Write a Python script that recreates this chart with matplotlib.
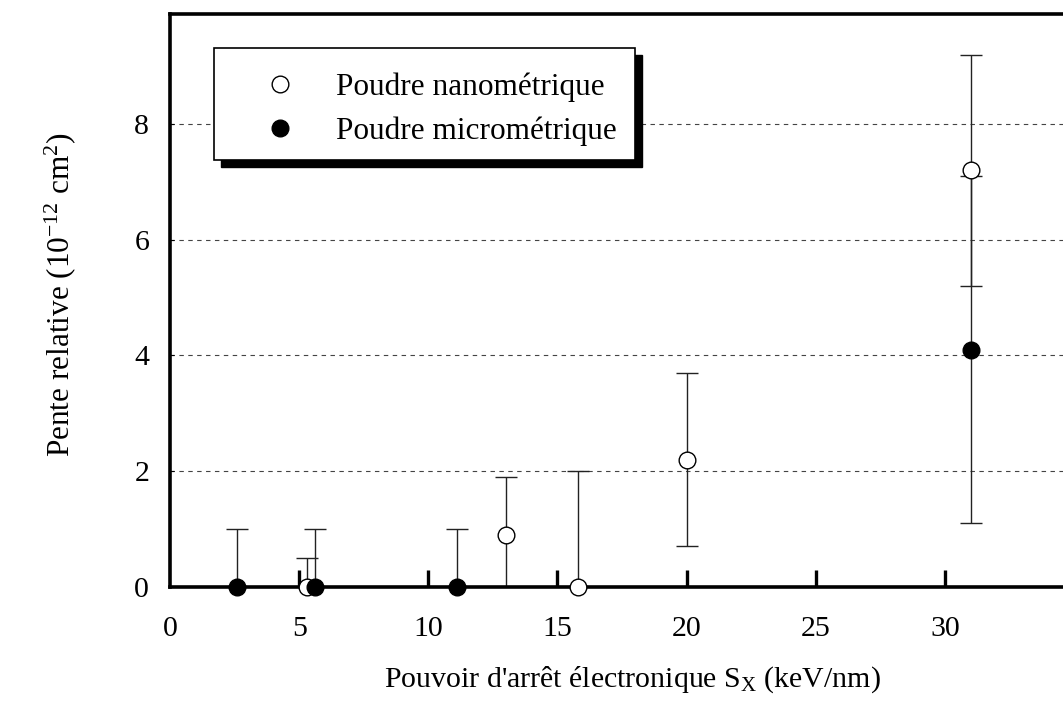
import matplotlib
matplotlib.use("Agg")
import matplotlib.pyplot as plt
from matplotlib.lines import Line2D
from matplotlib.patches import Rectangle

# ---- data ----
nano_x = [5.3, 13.0, 15.8, 20.0, 31.0]
nano_y = [0.0, 0.9, 0.0, 2.2, 7.2]
nano_err = [0.5, 1.0, 2.0, 1.5, 2.0]

micro_x = [2.6, 5.6, 11.1, 31.0]
micro_y = [0.0, 0.0, 0.0, 4.1]
micro_err = [1.0, 1.0, 1.0, 3.0]

xticks = [0, 5, 10, 15, 20, 25, 30]
yticks = [0, 2, 4, 6, 8]
label_nano = "Poudre nanométrique"
label_micro = "Poudre micrométrique"
xlabel = "Pouvoir d'arrêt électronique S$_{\\mathrm{X}}$ (keV/nm)"
ylabel = "Pente relative (10$^{\\mathrm{-12}}$ cm$^{\\mathrm{2}}$)"

plt.rcParams['font.family'] = ['Liberation Serif', 'DejaVu Serif']
plt.rcParams['mathtext.fontset'] = 'custom'
plt.rcParams['mathtext.rm'] = 'Liberation Serif'
plt.rcParams['mathtext.it'] = 'Liberation Serif:italic'
plt.rcParams['mathtext.bf'] = 'Liberation Serif:bold'

FS = 21.5
W, H = 1063, 704
fig = plt.figure(figsize=(W / 100, H / 100), dpi=100)
ax_left, ax_right, ax_top, ax_bottom = 170, 1074, 14, 587
ax = fig.add_axes([ax_left / W, (H - ax_bottom) / H,
                   (ax_right - ax_left) / W, (ax_bottom - ax_top) / H])
ax.set_xlim(0, 35)
ax.set_ylim(0, 9.9)

# grid
ax.set_yticks(yticks)
ax.set_xticks(xticks)
ax.yaxis.grid(True, color='#444444', linewidth=0.8, linestyle=(0, (4, 4)))
ax.set_axisbelow(True)

# error bars (clipped at axes)
ax.errorbar(nano_x, nano_y, yerr=nano_err, fmt='none', ecolor='#222222',
            elinewidth=1.0, capsize=8, capthick=1.0, zorder=3)
ax.errorbar(micro_x, micro_y, yerr=micro_err, fmt='none', ecolor='#222222',
            elinewidth=1.0, capsize=8, capthick=1.0, zorder=3)

# markers
ax.plot(nano_x, nano_y, linestyle='none', marker='o', ms=12, mfc='white',
        mec='black', mew=1.0, clip_on=False, zorder=5)
ax.plot(micro_x, micro_y, linestyle='none', marker='o', ms=12, mfc='black',
        mec='black', mew=1.0, clip_on=False, zorder=6)

# spines
for s in ['left', 'bottom', 'top']:
    ax.spines[s].set_linewidth(2.6)
    ax.spines[s].set_zorder(4)
ax.spines['right'].set_visible(False)

ax.tick_params(axis='x', direction='in', length=12, width=2.4, labelsize=FS,
               pad=21)
ax.tick_params(axis='y', direction='in', length=3, width=0.8, labelsize=FS,
               pad=15)
ax.set_xticklabels([str(v) for v in xticks])
ax.set_yticklabels([str(v) for v in yticks])
for t in ax.xaxis.get_major_ticks():
    t.tick1line.set_zorder(4)
ax.xaxis.get_major_ticks()[0].tick1line.set_visible(False)

ax.set_xlabel(xlabel, fontsize=FS, va='center')
ax.xaxis.set_label_coords((632 - ax_left) / (ax_right - ax_left),
                          (ax_bottom - 680) / (ax_bottom - ax_top))
ax.set_ylabel(ylabel, fontsize=22.5, va='center')
ax.yaxis.set_label_coords((60 - ax_left) / (ax_right - ax_left),
                          (ax_bottom - 295) / (ax_bottom - ax_top))

# legend box with shadow (pixel positions converted to axes fractions)
def fx(px):
    return (px - ax_left) / (ax_right - ax_left)

def fy(py):
    return (ax_bottom - py) / (ax_bottom - ax_top)

bx0, bx1, by0, by1 = 214, 635, 48, 160
sh = 7
ax.add_patch(Rectangle((fx(bx0 + sh), fy(by1 + sh)), fx(bx1 + sh) - fx(bx0 + sh),
                       fy(by0 + sh) - fy(by1 + sh), transform=ax.transAxes,
                       facecolor='black', edgecolor='black', zorder=7,
                       clip_on=False))
ax.add_patch(Rectangle((fx(bx0), fy(by1)), fx(bx1) - fx(bx0),
                       fy(by0) - fy(by1), transform=ax.transAxes,
                       facecolor='white', edgecolor='black', linewidth=1.2,
                       zorder=8, clip_on=False))
handles = [Line2D([], [], linestyle='none', marker='o', ms=12, mfc='white',
                  mec='black', mew=1.0),
           Line2D([], [], linestyle='none', marker='o', ms=12, mfc='black',
                  mec='black', mew=1.0)]
leg = ax.legend(handles, [label_nano, label_micro], loc='center left',
                bbox_to_anchor=(fx(264), fy(109)),
                frameon=False, fontsize=22.5, handlelength=1.0,
                handletextpad=1.3, labelspacing=0.45, borderpad=0,
                borderaxespad=0)
leg.set_zorder(9)

fig.savefig("out.png", dpi=100)
